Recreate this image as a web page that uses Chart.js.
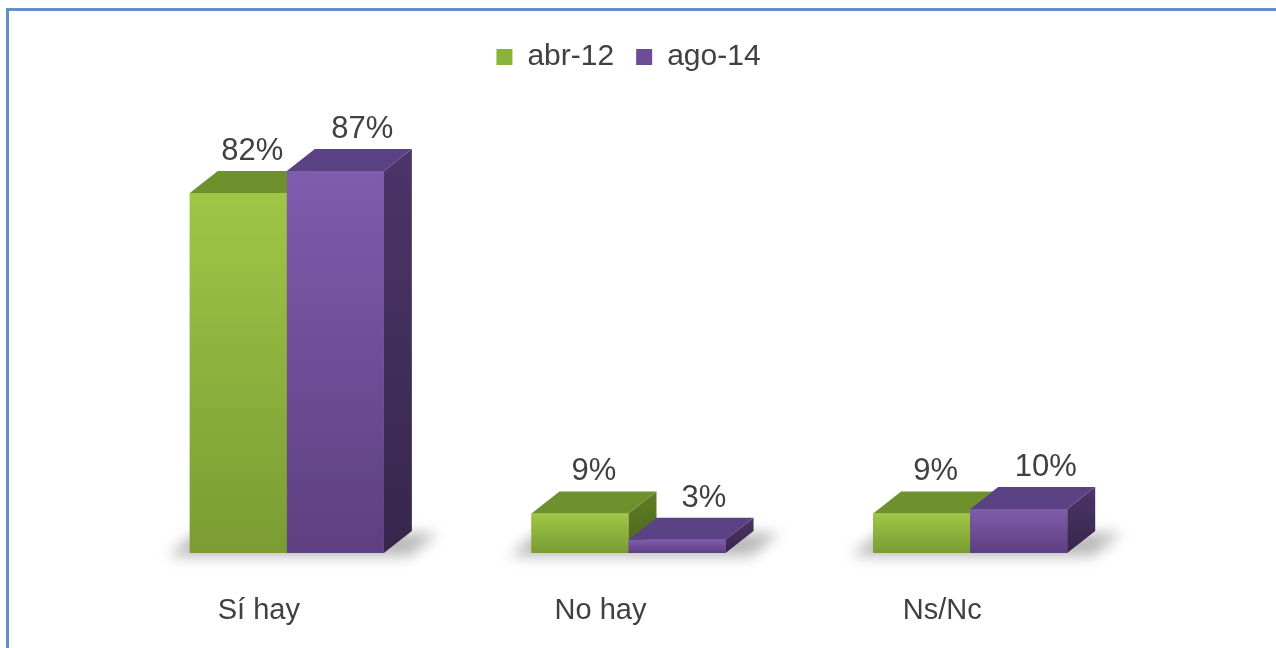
<!DOCTYPE html>
<html lang="es">
<head>
    <meta charset="UTF-8">
    <title>Sí hay / No hay / Ns/Nc</title>
    <script src="https://cdn.jsdelivr.net/npm/chart.js@4.4.0/dist/chart.umd.min.js"></script>
    <style>
        html, body { margin: 0; padding: 0; background: #fff; }
        .wrap { position: relative; width: 1276px; height: 648px; }
        .frame {
            position: absolute; left: 6px; top: 8px; right: -10px; bottom: -10px;
            border-top: 3px solid #6190ca; border-left: 3px solid #6190ca;
            pointer-events: none;
        }
    </style>
</head>
<body>
<div class="wrap">
    <canvas id="chart" width="1276" height="648"></canvas>
    <div class="frame"></div>
</div>
<script>
    // data
    const categories = ['Sí hay', 'No hay', 'Ns/Nc'];
    const seriesNames = ['abr-12', 'ago-14'];
    const abr12 = [82, 9, 9];
    const ago14 = [87, 3, 10];

    // 3d look
    const DX = 28, DY = 22;
    const palette = [
        { legend: '#8bb33a', frontTop: '#9fc646', frontBot: '#7a9c33', top: '#6f912d', sideTop: '#5f7e25', sideBot: '#4b661b', labelShift: 0 },
        { legend: '#6c4c97', frontTop: '#7f5cad', frontBot: '#5e3f80', top: '#5b4285', sideTop: '#4c3569', sideBot: '#37264c', labelShift: 13 }
    ];

    const bars3d = {
        id: 'bars3d',
        beforeInit(chart) {
            // extra room under the legend
            const fit = chart.legend.fit;
            chart.legend.fit = function () {
                fit.call(this);
                this.height += 32;
            };
        },
        beforeDatasetsDraw(chart) {
            const ctx = chart.ctx;
            const floor = chart.scales.y.getPixelForValue(0);
            // soft shadow on the floor under each pair
            const m0 = chart.getDatasetMeta(0), m1 = chart.getDatasetMeta(1);
            ctx.save();
            ctx.filter = 'blur(7px)';
            ctx.fillStyle = 'rgba(0,0,0,0.28)';
            m0.data.forEach((el, i) => {
                const l = el.x - el.width / 2 - 22;
                const r = m1.data[i].x + m1.data[i].width / 2 + DX + 26;
                ctx.beginPath();
                ctx.moveTo(l, floor + 3);
                ctx.lineTo(r - DX, floor + 3);
                ctx.lineTo(r, floor - DY + 2);
                ctx.lineTo(l + DX, floor - DY + 2);
                ctx.closePath();
                ctx.fill();
            });
            ctx.restore();
        },
        afterDatasetsDraw(chart) {
            const ctx = chart.ctx;
            ctx.save();
            chart.data.datasets.forEach((ds, d) => {
                const c = palette[d];
                chart.getDatasetMeta(d).data.forEach(el => {
                    const l = el.x - el.width / 2, r = el.x + el.width / 2;
                    const t = el.y, b = el.base;
                    // side
                    let g = ctx.createLinearGradient(0, t - DY, 0, b);
                    g.addColorStop(0, c.sideTop);
                    g.addColorStop(1, c.sideBot);
                    ctx.fillStyle = g;
                    ctx.beginPath();
                    ctx.moveTo(r, t);
                    ctx.lineTo(r + DX, t - DY);
                    ctx.lineTo(r + DX, b - DY);
                    ctx.lineTo(r, b);
                    ctx.closePath();
                    ctx.fill();
                    // top
                    ctx.fillStyle = c.top;
                    ctx.beginPath();
                    ctx.moveTo(l, t);
                    ctx.lineTo(l + DX, t - DY);
                    ctx.lineTo(r + DX, t - DY);
                    ctx.lineTo(r, t);
                    ctx.closePath();
                    ctx.fill();
                    // front
                    g = ctx.createLinearGradient(0, t, 0, b);
                    g.addColorStop(0, c.frontTop);
                    g.addColorStop(1, c.frontBot);
                    ctx.fillStyle = g;
                    ctx.fillRect(l, t, r - l, b - t);
                });
            });
            // value labels
            ctx.fillStyle = '#404040';
            ctx.font = '31px "Liberation Sans", Arial, sans-serif';
            ctx.textAlign = 'center';
            ctx.textBaseline = 'alphabetic';
            chart.data.datasets.forEach((ds, d) => {
                chart.getDatasetMeta(d).data.forEach((el, i) => {
                    ctx.fillText(ds.data[i] + '%', el.x + DX / 2 + palette[d].labelShift, el.y - DY - 11);
                });
            });
            ctx.restore();
        }
    };

    new Chart(document.getElementById('chart'), {
        type: 'bar',
        data: {
            labels: categories,
            datasets: [
                { label: seriesNames[0], data: abr12, backgroundColor: palette[0].legend },
                { label: seriesNames[1], data: ago14, backgroundColor: palette[1].legend }
            ]
        },
        options: {
            responsive: false,
            animation: false,
            events: [],
            layout: { padding: { left: 116, right: 135, top: 20, bottom: 23 } },
            datasets: { bar: { barPercentage: 1, categoryPercentage: 0.568 } },
            scales: {
                x: {
                    grid: { display: false, drawTicks: false },
                    border: { display: false },
                    ticks: {
                        color: '#404040',
                        font: { family: '"Liberation Sans", Arial, sans-serif', size: 29 },
                        padding: 41,
                        labelOffset: -28,
                        maxRotation: 0
                    },
                    afterFit(scale) { scale.height = 72; }
                },
                y: { display: false, min: 0, max: 100 }
            },
            plugins: {
                legend: {
                    position: 'top',
                    labels: {
                        color: '#404040',
                        font: { family: '"Liberation Sans", Arial, sans-serif', size: 30 },
                        boxWidth: 16,
                        boxHeight: 16,
                        padding: 22
                    }
                },
                tooltip: { enabled: false }
            }
        },
        plugins: [bars3d]
    });
</script>
</body>
</html>
